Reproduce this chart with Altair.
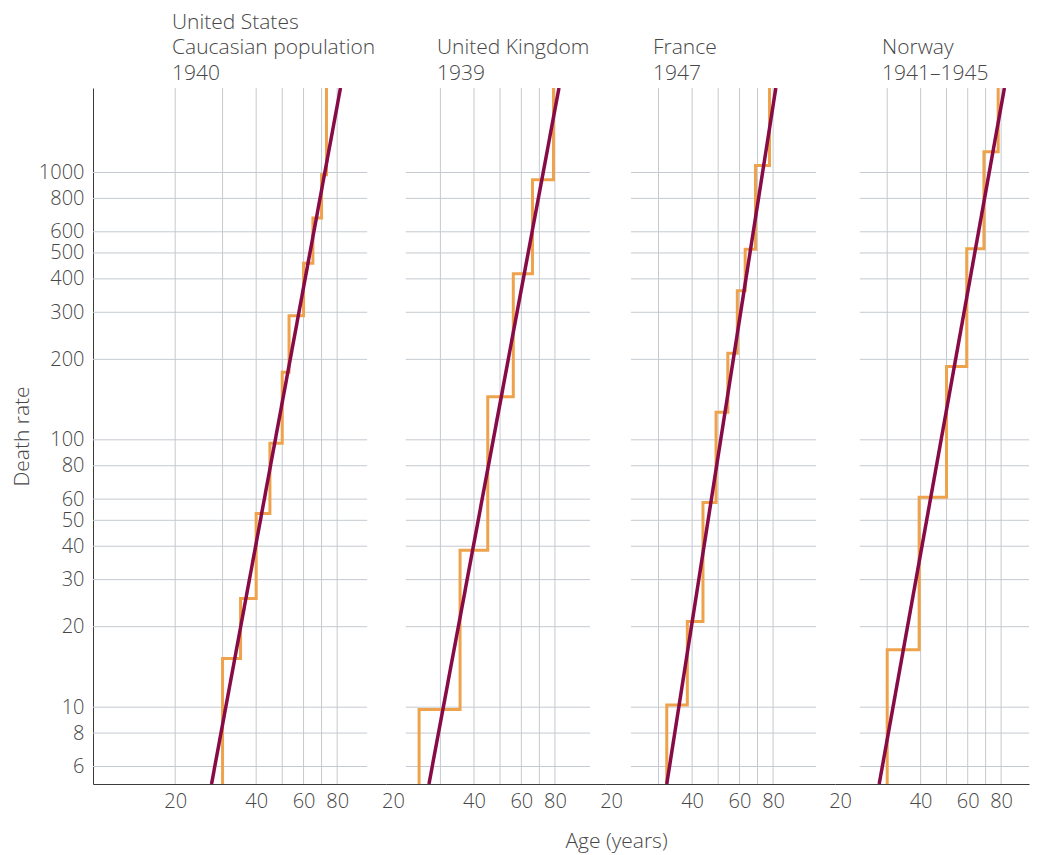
import altair as alt
import pandas as pd

FONT = "Open Sans"
TEXT = "#474747"
AXIS_LINE = "#3a3a3a"
GRID = "#C4CAD0"
ORANGE = "#EFA24C"
PURPLE = "#870B46"

# ---------------- data ----------------
rate_ticks = [6, 8, 10, 20, 30, 40, 50, 60, 80, 100, 200, 300, 400, 500, 600, 800, 1000]
age_labels = [20, 40, 60, 80]
age_grid_first = [20, 30, 40, 50, 60, 70, 80]
age_grid_other = [30, 40, 50, 60, 70, 80]
rate_domain = [5.16, 2070]

us_title = ["United States", "Caucasian population", "1940"]
uk_title = ["United Kingdom", "1939"]
fr_title = ["France", "1947"]
no_title = ["Norway", "1941–1945"]

# age-group boundaries and the death rate within each group
us_ages = [30, 35, 40, 45, 50, 53, 60, 65, 70, 73]
us_rates = [15.2, 25.5, 53, 97, 179, 291, 458, 675, 980]
uk_ages = [25, 35.5, 45, 56, 66, 79]
uk_rates = [9.8, 38.6, 145, 418, 940]
fr_ages = [32.2, 38.4, 43.9, 49.1, 54.3, 58.9, 63, 68.8, 77.6]
fr_rates = [10.2, 20.9, 58.3, 126.7, 210.7, 361, 516, 1062]
no_ages = [30, 39.5, 50, 59.5, 69, 78]
no_rates = [16.4, 61, 188, 519, 1195]

# fitted straight line (log-log): ages at the bottom and top of the rate range
fit_rates = [5.16, 2070]
us_fit_ages = [27.3, 82.3]
uk_fit_ages = [27.2, 82.8]
fr_fit_ages = [32.2, 81.9]
no_fit_ages = [28.0, 82.3]

RATE_FLOOR = 1.0      # off-scale start of each step line (clipped)
RATE_CEIL = 10000.0   # off-scale end of each step line (clipped)

# ---------------- layout ----------------
H = 696
panels = [
    dict(title=us_title, ages=us_ages, rates=us_rates, fit=us_fit_ages,
         domain=[9.9, 121.5], width=293, hspan=[9.9, 103.4], vgrid=age_grid_first,
         dx=79, yaxis=True, xtitle=False),
    dict(title=uk_title, ages=uk_ages, rates=uk_rates, fit=uk_fit_ages,
         domain=[18.83, 122.8], width=219, hspan=[22.3, 108], vgrid=age_grid_other,
         dx=51, yaxis=False, xtitle=True),
    dict(title=fr_title, ages=fr_ages, rates=fr_rates, fit=fr_fit_ages,
         domain=[18.98, 135.9], width=230, hspan=[23.7, 115.6], vgrid=age_grid_other,
         dx=48, yaxis=False, xtitle=False),
    dict(title=no_title, ages=no_ages, rates=no_rates, fit=no_fit_ages,
         domain=[19.14, 101.7], width=194, hspan=[23.7, 101.7], vgrid=age_grid_other,
         dx=47, yaxis=False, xtitle=False),
]


def make_panel(p):
    xs = alt.Scale(type="log", domain=p["domain"], nice=False)
    ys = alt.Scale(type="log", domain=rate_domain, nice=False)
    xkw = dict(values=age_labels, format="d", grid=False, ticks=False, tickSize=0,
               domain=True, domainColor=AXIS_LINE, domainWidth=1, labelPadding=7,
               labelFlush=False, labelOverlap=False)
    if p["xtitle"]:
        xkw.update(title="Age (years)", titleX=230, titlePadding=19)
    else:
        xkw.update(title=None)
    xaxis = alt.Axis(**xkw)
    if p["yaxis"]:
        yaxis = alt.Axis(values=rate_ticks, format="d", grid=False, ticks=False, tickSize=0,
                         domain=True, domainColor=AXIS_LINE, domainWidth=1, labelPadding=9,
                         labelOverlap=False, labelFlush=False, title="Death rate", titlePadding=6)
    else:
        yaxis = None

    vgrid_df = pd.DataFrame({"age": p["vgrid"]})
    hgrid_df = pd.DataFrame({"rate": rate_ticks,
                             "a0": [p["hspan"][0]] * len(rate_ticks),
                             "a1": [p["hspan"][1]] * len(rate_ticks)})
    ages, rates = p["ages"], p["rates"]
    step_x = [ages[0]] + ages[:-1] + [ages[-1]]
    step_y = [RATE_FLOOR] + rates + [RATE_CEIL]
    step_df = pd.DataFrame({"age": step_x, "rate": step_y, "i": list(range(len(step_x)))})
    fit_df = pd.DataFrame({"age": p["fit"], "rate": fit_rates})

    def yenc(field):
        if yaxis is None:
            return alt.Y(field, scale=ys, axis=None)
        return alt.Y(field, scale=ys, axis=yaxis)

    vg = alt.Chart(vgrid_df).mark_rule(color=GRID, strokeWidth=1).encode(
        x=alt.X("age:Q", scale=xs, axis=xaxis))
    hg = alt.Chart(hgrid_df).mark_rule(color=GRID, strokeWidth=1).encode(
        x=alt.X("a0:Q", scale=xs, axis=xaxis), x2="a1:Q", y=yenc("rate:Q"))
    step = alt.Chart(step_df).mark_line(interpolate="step-after", color=ORANGE,
                                        strokeWidth=3, clip=True).encode(
        x=alt.X("age:Q", scale=xs, axis=xaxis), y=yenc("rate:Q"), order="i:Q")
    fit = alt.Chart(fit_df).mark_line(color=PURPLE, strokeWidth=3.5, clip=True).encode(
        x=alt.X("age:Q", scale=xs, axis=xaxis), y=yenc("rate:Q"))

    return alt.layer(vg, hg, step, fit).properties(
        width=p["width"], height=H,
        title=alt.TitleParams(text=p["title"], anchor="start", frame="group", dx=p["dx"]))


chart = alt.hconcat(*[make_panel(p) for p in panels], spacing=0, bounds="flush").properties(
    padding={"left": 3, "top": 3, "right": 0, "bottom": 5}
).configure_view(stroke=None).configure_axis(
    labelFont=FONT, labelFontSize=20, labelFontWeight=300, labelColor=TEXT,
    titleFont=FONT, titleFontSize=21, titleFontWeight=300, titleColor=TEXT,
).configure_title(
    font=FONT, fontSize=21, fontWeight=300, color=TEXT, lineHeight=25.5, offset=4
)

chart.save("out.html", embed_options={"renderer": "svg", "actions": False})
